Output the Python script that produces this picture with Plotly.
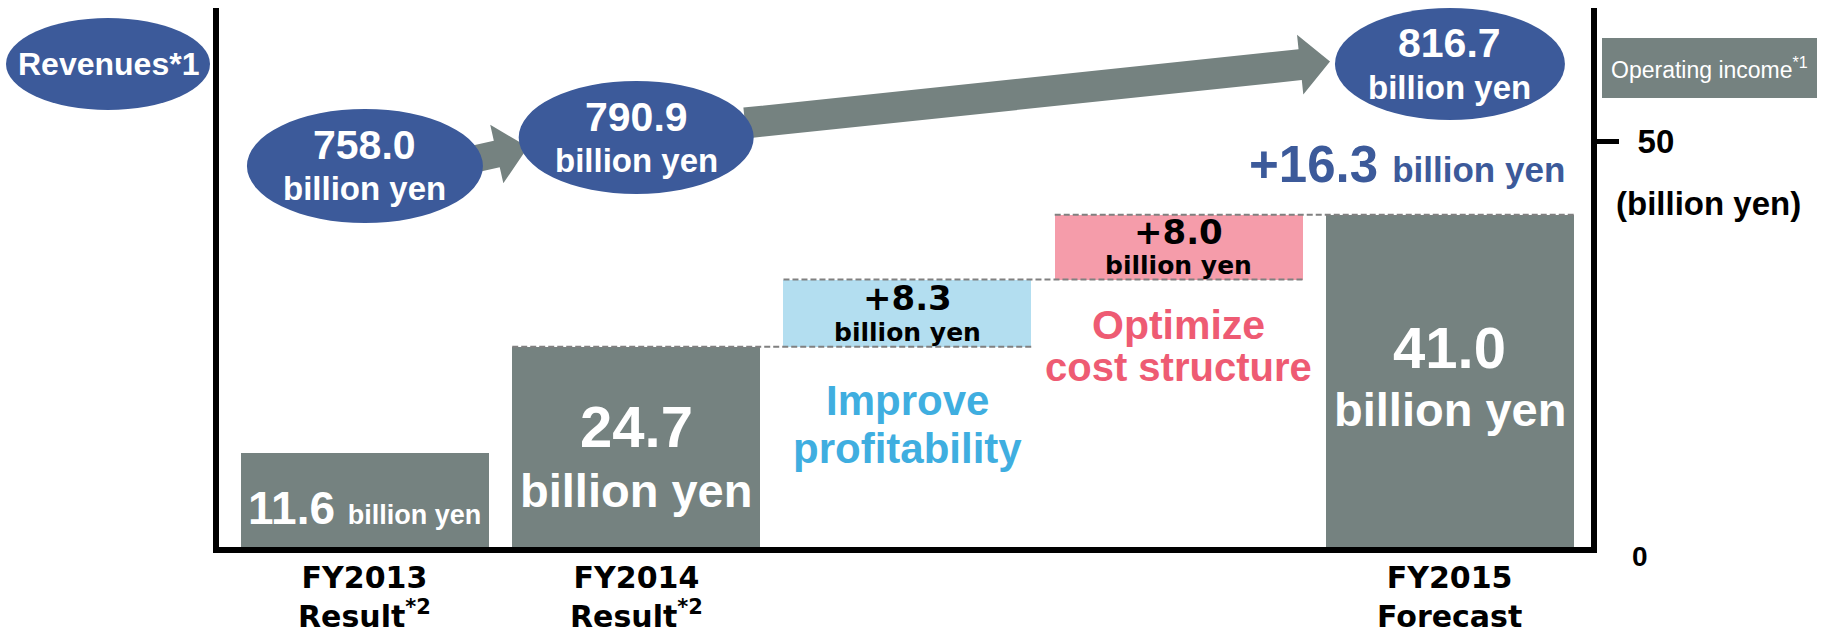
import plotly.graph_objects as go

# Operating income bridge, billion yen
steps = ["FY2013", "FY2014", "Improve profitability", "Optimize cost structure", "FY2015"]
step_values = [11.6, 24.7, 8.3, 8.0, 41.0]
step_kinds = ["total", "total", "delta", "delta", "total"]
step_labels = [("FY2013", "Result<sup>*2</sup>"), ("FY2014", "Result<sup>*2</sup>"),
               None, None, ("FY2015", "Forecast")]
driver_text = [("Improve", "profitability"), ("Optimize", "cost structure")]

# Revenues, billion yen (shown in the ellipses above the bars)
revenue_steps = [0, 1, 4]
revenues = [758.0, 790.9, 816.7]
total_increase = 16.3

FONT = "Liberation Sans, Arial, sans-serif"
WIDE = "DejaVu Sans, Verdana, sans-serif"
GRAY = "#758280"
NAVY = "#3C5A9A"
SKY = "#B3DEF0"
SKY_TXT = "#3FAEE0"
PINK = "#F59CAA"
PINK_TXT = "#EE5B73"

W, H = 1835, 637
L, R, T, B = 219, 1591, 8, 547           # plot area in pixels
XR = [-0.538, 4.52]
YR = [0, 66.5]
BAR_W = 0.914


def P(x, y):
    """pixel -> paper coords"""
    return (x - L) / (R - L), (B - y) / (B - T)


def xpix(i):
    return L + (i - XR[0]) / (XR[1] - XR[0]) * (R - L)


# bases for the floating bars
bases, tops = [], []
top = 0
for v, k in zip(step_values, step_kinds):
    if k == "total":
        bases.append(0)
        top = v
    else:
        bases.append(top)
        top += v
    tops.append(top)

colors = [GRAY, GRAY, SKY, PINK, GRAY]
xs = list(range(len(steps)))

fig = go.Figure()
fig.add_trace(go.Bar(
    x=xs, y=step_values, base=bases, width=BAR_W,
    marker=dict(color=colors, line_width=0),
    hoverinfo="skip", showlegend=False,
))

shapes = []

# dashed connectors from each bar top to the right edge of the next bar
for i in range(1, len(steps) - 1):
    shapes.append(dict(
        type="line", xref="x", yref="y",
        x0=i - BAR_W / 2, x1=i + 1 + BAR_W / 2, y0=tops[i], y1=tops[i],
        line=dict(color="#808080", width=2, dash="6px,3px"),
    ))


def arrow(x0, y0, x1, y1, half, head_half, head_len):
    dx, dy = x1 - x0, y1 - y0
    n = (dx * dx + dy * dy) ** 0.5
    ux, uy = dx / n, dy / n
    nx, ny = -uy, ux
    bx, by = x1 - ux * head_len, y1 - uy * head_len
    pts = [
        (x0 + nx * half, y0 + ny * half),
        (bx + nx * half, by + ny * half),
        (bx + nx * head_half, by + ny * head_half),
        (x1, y1),
        (bx - nx * head_half, by - ny * head_half),
        (bx - nx * half, by - ny * half),
        (x0 - nx * half, y0 - ny * half),
    ]
    path = "M " + " L ".join("%.5f,%.5f" % P(px, py) for px, py in pts) + " Z"
    return dict(type="path", xref="paper", yref="paper", path=path,
                fillcolor=GRAY, line_width=0)


shapes.append(arrow(470, 160, 528, 147, 13.5, 30, 32))
shapes.append(arrow(745, 123, 1330, 61.5, 15.5, 30, 30))


def ellipse(cx, cy, rx, ry, color=NAVY):
    x0, y0 = P(cx - rx, cy + ry)
    x1, y1 = P(cx + rx, cy - ry)
    return dict(type="circle", xref="paper", yref="paper",
                x0=x0, x1=x1, y0=y0, y1=y1, fillcolor=color, line_width=0)


shapes.append(ellipse(108, 64, 102, 46))
ell_cy = [166, 137.5, 64]
ell_rx = [118, 117.5, 115]
ell_ry = [57, 56.5, 56]
for i, s in enumerate(revenue_steps):
    shapes.append(ellipse(xpix(s), ell_cy[i], ell_rx[i], ell_ry[i]))

# "Operating income" tag box
bx0, by0 = P(1602, 98)
bx1, by1 = P(1817, 38)
shapes.append(dict(type="rect", xref="paper", yref="paper",
                   x0=bx0, x1=bx1, y0=by0, y1=by1, fillcolor=GRAY, line_width=0))

ann = []


def note(x, y, text, size, color="black", xref="paper", yref="paper",
         xanchor="center", yanchor="middle", family=FONT):
    ann.append(dict(x=x, y=y, xref=xref, yref=yref, text=text, showarrow=False,
                    xanchor=xanchor, yanchor=yanchor,
                    font=dict(family=family, size=size, color=color)))


def note_px(px, py, text, size, color="black", xanchor="center"):
    x, y = P(px, py)
    note(x, y, text, size, color, xanchor=xanchor)


# revenue ellipse texts
note_px(108, 64, "<b>Revenues*1</b>", 32, "white")
for i, s in enumerate(revenue_steps):
    cx = xpix(s)
    note_px(cx, ell_cy[i] - 21, "<b>%.1f</b>" % revenues[i], 41, "white")
    note_px(cx, ell_cy[i] + 23, "<b>billion yen</b>", 33, "white")

# category labels under the axis
for i, lab in enumerate(step_labels):
    if lab:
        note(i, P(0, 636)[1], "<b>%s</b><br><b>%s</b>" % lab, 30, xref="x",
             yanchor="bottom", family=WIDE)

# labels inside the bars
note(0, step_values[0] * 0.42,
     "<b>%.1f</b> <b><span style='font-size:27px'>billion yen</span></b>" % step_values[0],
     46, "white", xref="x", yref="y")
for i, fr in ((1, (0.60, 0.28)), (4, (0.60, 0.415))):
    v = step_values[i]
    note(i, v * fr[0], "<b>%.1f</b>" % v, 58, "white", xref="x", yref="y")
    note(i, v * fr[1], "<b>billion yen</b>", 47, "white", xref="x", yref="y")
for i in (2, 3):
    v = step_values[i]
    note(i, bases[i] + v * 0.73, "<b>+%.1f</b>" % v, 34, "black", xref="x", yref="y", family=WIDE)
    note(i, bases[i] + v * 0.22, "<b>billion yen</b>", 25, "black", xref="x", yref="y", family=WIDE)

# driver captions
note(2, P(0, 401)[1], "<b>%s</b>" % driver_text[0][0], 42, SKY_TXT, xref="x")
note(2, P(0, 448)[1], "<b>%s</b>" % driver_text[0][1], 42, SKY_TXT, xref="x")
note(3, P(0, 325)[1], "<b>%s</b>" % driver_text[1][0], 41, PINK_TXT, xref="x")
note(3, P(0, 367)[1], "<b>%s</b>" % driver_text[1][1], 40, PINK_TXT, xref="x")

# total increase
note_px(1567, 165,
        "<b>+%.1f</b> <b><span style='font-size:35px'>billion yen</span></b>" % total_increase,
        51, NAVY, xanchor="right")

# right axis extras
note_px(1709, 68, "Operating income<sup>*1</sup>", 23, "white")
note_px(1708, 203, "<b>(billion yen)</b>", 33)
note_px(1630, 556, "<b>0</b>", 28, xanchor="left")

fig.update_layout(
    width=W, height=H,
    margin=dict(l=L, r=W - R, t=T, b=H - B, pad=0),
    plot_bgcolor="white", paper_bgcolor="white",
    showlegend=False, bargap=0,
    font=dict(family=FONT, color="black"),
    xaxis=dict(
        range=XR, showticklabels=False, ticks="",
        showline=True, linewidth=6, linecolor="black",
        showgrid=False, zeroline=False, fixedrange=True,
    ),
    yaxis=dict(
        range=YR, side="right", tickvals=[50], ticktext=["<b>50</b>"],
        ticks="outside", ticklen=22, tickwidth=5, tickcolor="black",
        ticklabelstandoff=12,
        tickfont=dict(size=33, family=FONT, color="black"),
        showline=True, linewidth=6, linecolor="black", mirror=True,
        showgrid=False, zeroline=False, fixedrange=True,
    ),
    shapes=shapes,
    annotations=ann,
)

# the page's default body margin would push the fixed-size figure 8px off
fig.write_html("out.html", config={"displayModeBar": False},
               post_script="document.body.style.margin='0px';")
